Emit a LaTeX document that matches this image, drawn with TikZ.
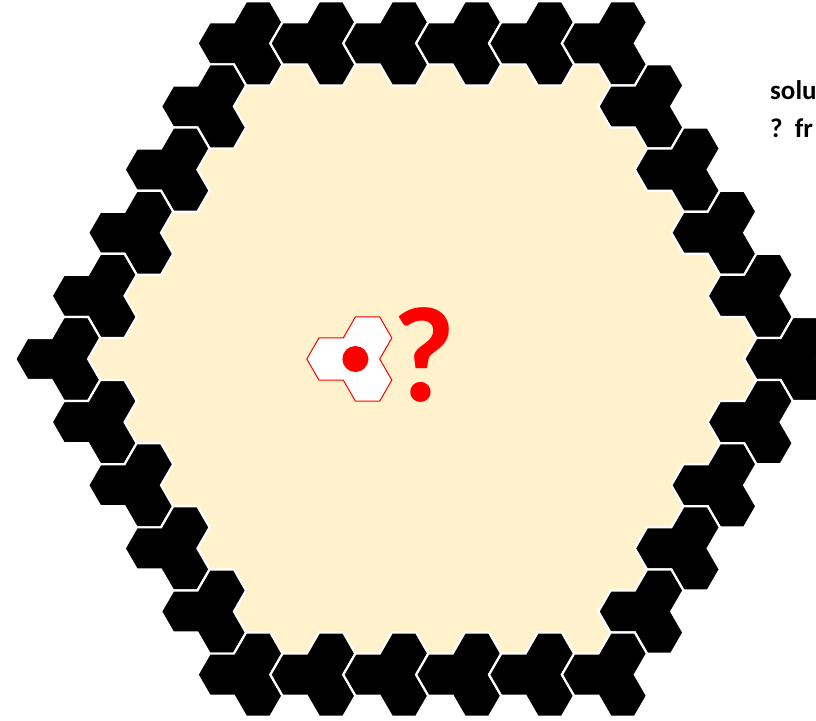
\documentclass[tikz,border=0pt]{standalone}
\usepackage{fontspec}
\setmainfont{Carlito}
\definecolor{cream}{HTML}{FFF2CC}
\def\hexR{24.3}
\def\hexH{21.044}
\def\Cx{428.3}
\def\Cy{359}
\newcommand\trihex[3]{%
  \path[#3, shift={(#1,#2)}] (-2*\hexR,0) -- (-1.5*\hexR,-\hexH) -- (-0.5*\hexR,-\hexH)
    -- (0,-2*\hexH) -- (\hexR,-2*\hexH) -- (1.5*\hexR,-\hexH) -- (\hexR,0)
    -- (1.5*\hexR,\hexH) -- (\hexR,2*\hexH) -- (0,2*\hexH) -- (-0.5*\hexR,\hexH)
    -- (-1.5*\hexR,\hexH) -- cycle;}
\tikzset{
  boardcell/.style={fill=cream, draw=cream, line width=1pt, line join=round},
  bordertile/.style={fill=black, draw=white, line width=2.2pt, line join=miter},
  puzzletile/.style={fill=white, draw=red, line width=1pt, line join=miter},
  sidetext/.style={anchor=base west, inner sep=0pt, font=\bfseries\fontsize{27}{32}\selectfont},
}
\begin{document}
\begin{tikzpicture}[x=1pt, y=-1pt]
\useasboundingbox (0,0) rectangle (816,720);
\clip (0,0) rectangle (816,720);
% interior of the board
\foreach \u in {-5,...,5}{
  \foreach \v in {-5,...,5}{
    \pgfmathtruncatemacro\dist{max(abs(\u),abs(\v),abs(\u-\v))}
    \pgfmathsetmacro\ax{\Cx+3*\hexR*\u-1.5*\hexR*\v}
    \pgfmathsetmacro\ay{\Cy+3*\hexH*\v}
    \ifnum\dist<5 \trihex{\ax}{\ay}{boardcell}\fi
  }
}
% border ring of black tiles
\foreach \u in {-5,...,5}{
  \foreach \v in {-5,...,5}{
    \pgfmathtruncatemacro\dist{max(abs(\u),abs(\v),abs(\u-\v))}
    \pgfmathsetmacro\ax{\Cx+3*\hexR*\u-1.5*\hexR*\v}
    \pgfmathsetmacro\ay{\Cy+3*\hexH*\v}
    \ifnum\dist=5 \trihex{\ax}{\ay}{bordertile}\fi
  }
}
% the tile to place
\trihex{\Cx-3*\hexR}{\Cy}{puzzletile}
\fill[red] (\Cx-3*\hexR,\Cy) circle[radius=13pt];
\node[text=red, anchor=base, inner sep=0pt, font=\bfseries\fontsize{136}{136}\selectfont] (qmark) at (424,401) {?};
\node[sidetext] (line1) at (770,99) {solu};
\node[sidetext] (line2) at (770,137) {?\ \ fr};
\end{tikzpicture}
\end{document}
